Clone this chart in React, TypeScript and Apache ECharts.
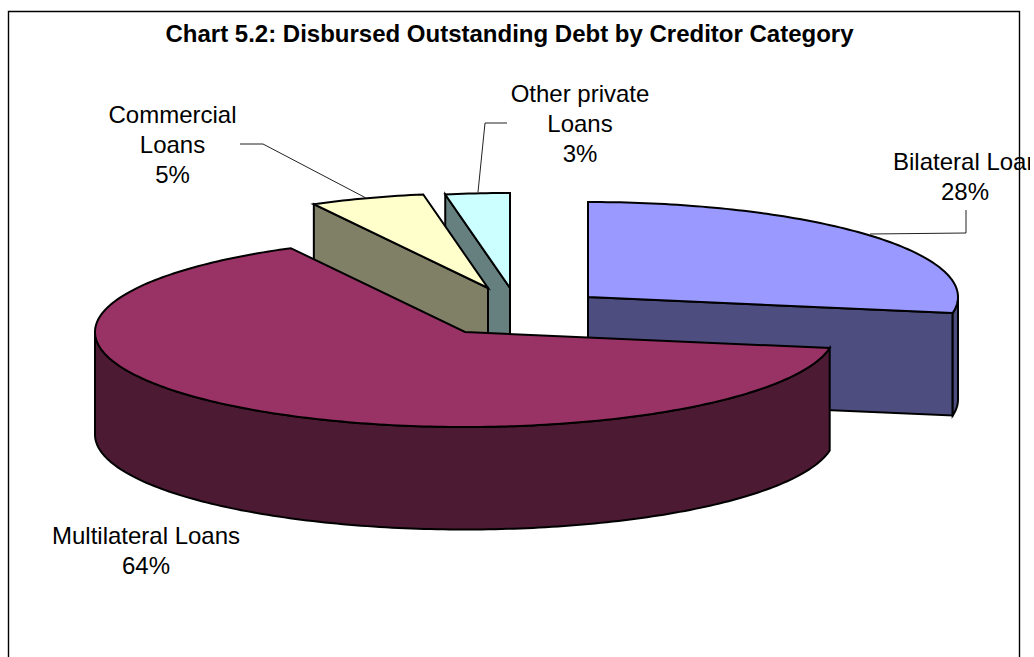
import React, { useEffect, useRef } from "react";
import * as echarts from "echarts";

const titleText = "Chart 5.2: Disbursed Outstanding Debt by Creditor Category";
const categories = ["Bilateral Loans", "Multilateral Loans", "Commercial Loans", "Other private Loans"];
const values = [27.7, 64.5, 5.0, 2.8];
const percentLabels = ["28%", "64%", "5%", "3%"];

const topColors = ["#9999FF", "#993366", "#FFFFCC", "#CCFFFF"];
const sideColors = ["#4D4D80", "#4D1A33", "#808066", "#668080"];
const centersX = [588, 465, 488, 510];
const centersY = [297, 332, 288, 288];
const paintOrder = [0, 3, 2, 1];
const RX = 370;
const RY = 95;
const DEPTH = 102.5;
const FONT = '"Liberation Sans", Arial, sans-serif';
const LINE = 2;

const total = values.reduce((a, b) => a + b, 0);
const starts = values.map((_, i) => values.slice(0, i).reduce((a, b) => a + b, 0));

function pt(cx: number, cy: number, deg: number, dy = 0): number[] {
  const r = (deg * Math.PI) / 180;
  return [cx + RX * Math.sin(r), cy - RY * Math.cos(r) + dy];
}

function arc(cx: number, cy: number, a: number, b: number, dy = 0): number[][] {
  const out: number[][] = [];
  const n = Math.max(1, Math.ceil(b - a));
  for (let i = 0; i <= n; i++) out.push(pt(cx, cy, a + ((b - a) * i) / n, dy));
  return out;
}

function poly(points: number[][], fill: string) {
  return {
    type: "polygon",
    shape: { points },
    style: { fill, stroke: "#000", lineWidth: LINE, lineJoin: "miter" },
  };
}

function renderItem(_params: any, api: any) {
  const idx = api.value(0) as number;
  const start = api.value(1) as number;
  const val = api.value(2) as number;
  const a = (start / total) * 360;
  const b = ((start + val) / total) * 360;
  const cx = centersX[idx];
  const cy = centersY[idx];
  const side = sideColors[idx];
  const children: any[] = [];
  const face = (deg: number) => {
    const e = pt(cx, cy, deg);
    children.push(poly([[cx, cy], e, [e[0], e[1] + DEPTH], [cx, cy + DEPTH]], side));
  };
  if (Math.sin((a * Math.PI) / 180) < -1e-6) face(a);
  if (Math.sin((b * Math.PI) / 180) > 1e-6) face(b);
  const wa = Math.max(a, 90);
  const wb = Math.min(b, 270);
  if (wb > wa) {
    children.push(poly([...arc(cx, cy, wa, wb), ...arc(cx, cy, wa, wb, DEPTH).reverse()], side));
  }
  children.push(poly([[cx, cy], ...arc(cx, cy, a, b)], topColors[idx]));
  return { type: "group", children };
}

const label = (text: string, x: number, y: number, align = "center") => ({
  type: "text",
  x,
  y,
  style: {
    text,
    font: `24px ${FONT}`,
    fill: "#000",
    textAlign: align,
    textVerticalAlign: "middle",
    lineHeight: 30,
  },
  z: 10,
});

const leader = (points: number[][], stroke = "#222") => ({
  type: "polyline",
  shape: { points },
  style: { stroke, lineWidth: 1, fill: "none" },
  z: 9,
});

export default function App() {
  const ref = useRef<HTMLDivElement>(null);
  useEffect(() => {
    document.body.style.margin = "0";
    document.body.style.background = "#fff";
    const chart = echarts.init(ref.current!, undefined, { renderer: "svg" });
    chart.setOption({
      animation: false,
      backgroundColor: "#fff",
      title: {
        text: titleText,
        left: 504.5,
        top: 16,
        textAlign: "center",
        textStyle: { fontFamily: FONT, fontSize: 24, fontWeight: "bold", color: "#000" },
      },
      series: [
        {
          type: "custom",
          coordinateSystem: "none",
          silent: true,
          renderItem,
          data: paintOrder.map((i) => ({ name: categories[i], value: [i, starts[i], values[i]] })),
        },
      ],
      graphic: [
        {
          type: "polyline",
          shape: { points: [[8.5, 657], [8.5, 11.5], [1019.5, 11.5], [1019.5, 657]] },
          style: { stroke: "#000", lineWidth: 1.4, fill: "none" },
          z: 1,
        },
        leader([[870, 234], [966, 233], [966, 210]]),
        leader([[366, 198], [263, 144], [240, 144]]),
        leader([[478, 192], [485, 123], [507, 123]]),
        label(`Commercial\nLoans\n${percentLabels[2]}`, 172.5, 144),
        label(`Other private\nLoans\n${percentLabels[3]}`, 580, 123),
        label(categories[0], 893, 161, "left"),
        label(percentLabels[0], 965, 191),
        label(`${categories[1]}\n${percentLabels[1]}`, 146, 550),
      ],
    });
    return () => chart.dispose();
  }, []);
  return (
    <div
      ref={ref}
      style={{ position: "absolute", left: 0, top: 0, width: 1030, height: 657, overflow: "hidden" }}
    />
  );
}
